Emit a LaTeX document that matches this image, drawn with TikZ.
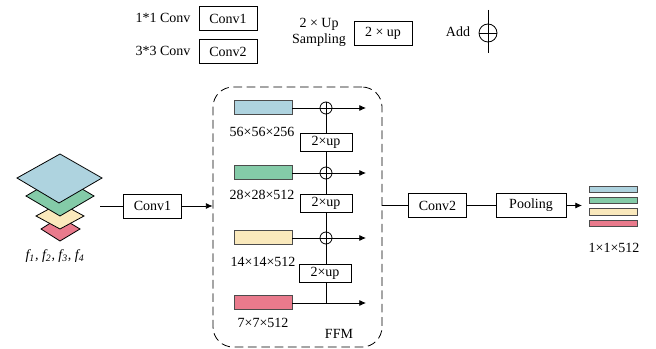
\documentclass[tikz,border=0pt]{standalone}
\usepackage{fontspec}
\setmainfont{Liberation Serif}
\usetikzlibrary{positioning,arrows.meta,shapes.geometric}

\definecolor{layerblue}{HTML}{AED3DF}
\definecolor{layergreen}{HTML}{84CBA8}
\definecolor{layeryellow}{HTML}{FAE9BC}
\definecolor{layerred}{HTML}{E97A8C}

\begin{document}
\begin{tikzpicture}[
x=0.75pt,y=-0.75pt,
line width=0.6pt,
every node/.style={font=\fontsize{10.5}{12}\selectfont,inner sep=0pt},
box/.style={draw,minimum width=#1,minimum height=13.5pt},
box/.default=43.5pt,
upbox/.style={draw,minimum width=39pt,minimum height=13.5pt},
bar/.style={draw=black!70,fill=#1,minimum width=43.5pt,minimum height=10pt},
thinbar/.style={draw=black!70,fill=#1,minimum width=36pt,minimum height=5pt},
addnode/.style={draw,circle,minimum size=9pt,
path picture={\draw (path picture bounding box.west)--(path picture bounding box.east);
\draw (path picture bounding box.north)--(path picture bounding box.south);}},
>={Latex[length=5pt,width=4.5pt]}]

\useasboundingbox (0,0) rectangle (656,349);

% legend
\node (t1) at (163,18) {1*1 Conv};
\node (k1) [box,minimum height=18.5pt] at (228,18.5) {Conv1};
\node (t2) at (163,51) {3*3 Conv};
\node (k2) [box,minimum height=18.5pt] at (228,51.5) {Conv2};
\node (t3) [align=center] at (319,32) {2 × Up\\Sampling};
\node (k3) [box,minimum height=18pt] at (383,33) {2 × up};
\node (t4) at (458,32) {Add};
\node (k4) [addnode,minimum size=13.5pt] at (488,33) {};
\coordinate (k4a) at (488,10);
\coordinate (k4b) at (488,53);
\draw (k4a)--(k4b);

% input layers
\draw[fill=layerred] (41,229)--(60,217)--(80,229)--(60,241)--cycle;
\draw[fill=layeryellow] (36,216)--(60,203)--(84,216)--(60,229)--cycle;
\draw[fill=layergreen] (26,196)--(60,176)--(94,196)--(60,216)--cycle;
\draw[fill=layerblue] (17,178)--(60,154)--(102,178)--(59,203)--cycle;
\node (f) at (55,256) {\textit{f\textsubscript{1}, f\textsubscript{2}, f\textsubscript{3}, f\textsubscript{4}}};

\coordinate (in) at (100,206);
\node (c1) [box,minimum height=18pt] at (152.5,206) {Conv1};

% FFM
\node (ffm) [draw,dash pattern=on 6.5pt off 3.5pt,rounded corners=15pt,
minimum width=126.75pt,minimum height=195pt] at (297.5,217) {};
\node (ffmt) at (339,334) {FFM};

\node (b1) [bar=layerblue] at (263,107.5) {};
\node (b2) [bar=layergreen] at (263,172.5) {};
\node (b3) [bar=layeryellow] at (263,237.5) {};
\node (b4) [bar=layerred] at (263,302.5) {};

\node (l1) at (262,132) {56×56×256};
\node (l2) at (262,195) {28×28×512};
\node (l3) at (263,262) {14×14×512};
\node (l4) at (263,323) {7×7×512};

\node (a1) [addnode] at (326,108) {};
\node (a2) [addnode] at (326,173) {};
\node (a3) [addnode] at (326,238) {};
\coordinate (a4) at (326,303);

\node (u1) [upbox] at (326,142) {2×up};
\node (u2) [upbox] at (326,203) {2×up};
\node (u3) [upbox] at (325,273) {2×up};

\coordinate (e1) at (366,108);
\coordinate (e2) at (366,173);
\coordinate (e3) at (366,238);
\coordinate (e4) at (366,303);

\draw[->] (b1.east |- a1)--(e1);
\draw[->] (b2.east |- a2)--(e2);
\draw[->] (b3.east |- a3)--(e3);
\draw[->] (b4.east |- a4)--(e4);

\draw (a1)--(u1);
\draw (u1)--(a2);
\draw (a2)--(u2);
\draw (u2)--(a3);
\draw (a3)--(u3.north -| a3);
\draw (u3.south -| a4)--(a4);

% output
\node (c2) [box,minimum width=44pt,minimum height=18pt] at (437.5,205.5) {Conv2};
\node (p) [box,minimum width=52.5pt,minimum height=18pt] at (531,205.5) {Pooling};
\coordinate (o) at (582,205.5);

\node (r1) [thinbar=layerblue] at (613,189.5) {};
\node (r2) [thinbar=layergreen] at (613,200.5) {};
\node (r3) [thinbar=layeryellow] at (613,212) {};
\node (r4) [thinbar=layerred] at (613,223.5) {};
\node (rt) at (614,248) {1×1×512};

\draw (in)--(c1);
\draw[->] (c1)--(ffm.west |- c1);
\draw (ffm.east |- c2)--(c2);
\draw (c2)--(p);
\draw[->] (p)--(o);

\end{tikzpicture}
\end{document}
